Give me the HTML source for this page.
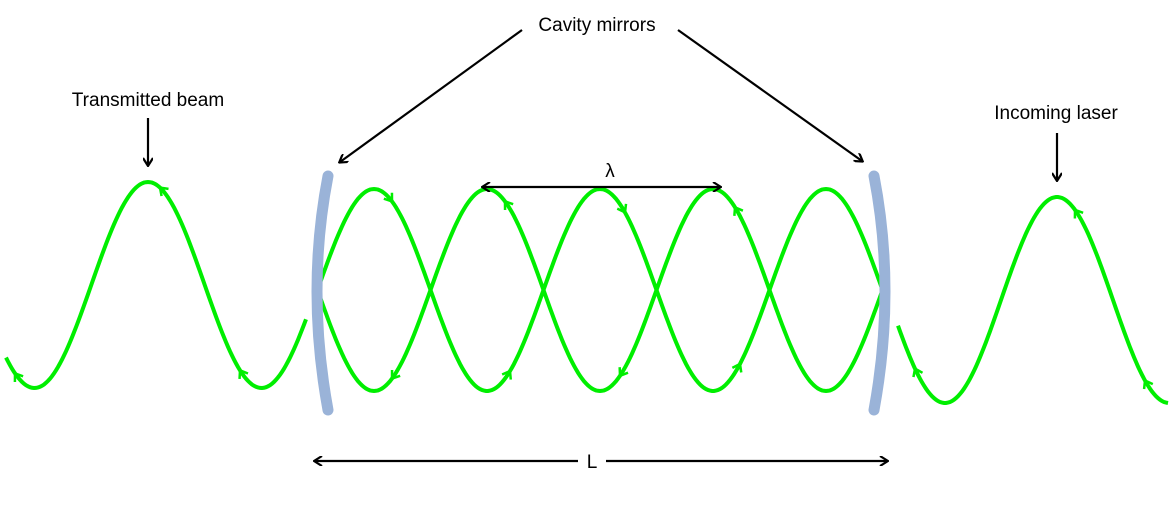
<!DOCTYPE html>
<html><head><meta charset="utf-8"><style>
body{margin:0;background:#fff}
svg{display:block}
text{font-family:"Liberation Sans",sans-serif;font-size:19px;fill:#000}
</style></head><body>
<svg width="1170" height="509" viewBox="0 0 1170 509">
<defs>
<marker id="ah" markerWidth="10" markerHeight="10" refX="8" refY="5" orient="auto" markerUnits="userSpaceOnUse">
<path d="M1,0 L9,5 L1,10" fill="none" stroke="#000" stroke-width="2.2"/>
</marker>
</defs>
<g id="waves"></g>
<path d="M328,176 Q306,290 328,410" fill="none" stroke="#9ab3d8" stroke-width="11" stroke-linecap="round"/>
<path d="M874,176 Q896,290 874,410" fill="none" stroke="#9ab3d8" stroke-width="11" stroke-linecap="round"/>
<g id="chev"></g>
<text x="597" y="31" text-anchor="middle">Cavity mirrors</text>
<line x1="522" y1="30" x2="340" y2="162" stroke="#000" stroke-width="2.2" marker-end="url(#ah)"/>
<line x1="678" y1="30" x2="862" y2="161" stroke="#000" stroke-width="2.2" marker-end="url(#ah)"/>
<text x="148" y="106" text-anchor="middle">Transmitted beam</text>
<line x1="148" y1="118" x2="148" y2="165" stroke="#000" stroke-width="2.2" marker-end="url(#ah)"/>
<text x="1056" y="119" text-anchor="middle">Incoming laser</text>
<line x1="1057" y1="133" x2="1057" y2="180" stroke="#000" stroke-width="2.2" marker-end="url(#ah)"/>
<text x="610" y="177" text-anchor="middle">λ</text>
<line x1="600" y1="187" x2="483" y2="187" stroke="#000" stroke-width="2.2" marker-end="url(#ah)"/>
<line x1="600" y1="187" x2="720" y2="187" stroke="#000" stroke-width="2.2" marker-end="url(#ah)"/>
<text x="592" y="468" text-anchor="middle">L</text>
<line x1="578" y1="461" x2="315" y2="461" stroke="#000" stroke-width="2.2" marker-end="url(#ah)"/>
<line x1="606" y1="461" x2="887" y2="461" stroke="#000" stroke-width="2.2" marker-end="url(#ah)"/>
</svg>
<script>
// wave definitions: [xStart, xEnd, centerY, amplitude, period, peakX]
const waveStarts=[6,318,318,898];
const waveEnds=[306,884,884,1168];
const waveCenters=[285,290,290,300];
const waveAmps=[103,101,-101,103];
const wavePeriods=[227,226,226,224];
const wavePhases=[148,374,374,1057];
const g=document.getElementById('waves');
const ns='http://www.w3.org/2000/svg';
const names=['transmitted-wave','cavity-wave-forward','cavity-wave-backward','incoming-wave'];
function yAt(i,x){return waveCenters[i]-waveAmps[i]*Math.cos(2*Math.PI*(x-wavePhases[i])/wavePeriods[i]);}
for(let i=0;i<waveStarts.length;i++){
  let d='';
  for(let x=waveStarts[i];x<=waveEnds[i];x+=2){d+=(d?'L':'M')+x+','+yAt(i,x).toFixed(1);}
  const p=document.createElementNS(ns,'path');
  p.setAttribute('d',d);p.setAttribute('fill','none');p.setAttribute('stroke','#00ee00');p.setAttribute('stroke-width','4');
  
  
  g.appendChild(p);
}
// small direction chevrons
const chevWave=[0,0,0,1,1,1,1,2,2,2,2,3,3,3];
const chevX=[15,160,240,392,510,625,740,392,505,620,735,915,1075,1145];
const chevDir=[-1,-1,-1,1,1,1,1,-1,-1,-1,-1,-1,-1,-1];
const cg=document.getElementById('chev');
for(let k=0;k<chevX.length;k++){
  const i=chevWave[k],x=chevX[k],y=yAt(i,x);
  const dy=yAt(i,x+1)-y;const a=Math.atan2(dy*chevDir[k],chevDir[k])*180/Math.PI;
  const c=document.createElementNS(ns,'path');
  c.setAttribute('d','M-7,-5 L0,0 L-7,5');
  c.setAttribute('fill','none');c.setAttribute('stroke','#00ee00');c.setAttribute('stroke-width','2.5');
  c.setAttribute('transform','translate('+x+','+y.toFixed(1)+') rotate('+a.toFixed(1)+')');
  
  
  cg.appendChild(c);
}
</script>
</body></html>
